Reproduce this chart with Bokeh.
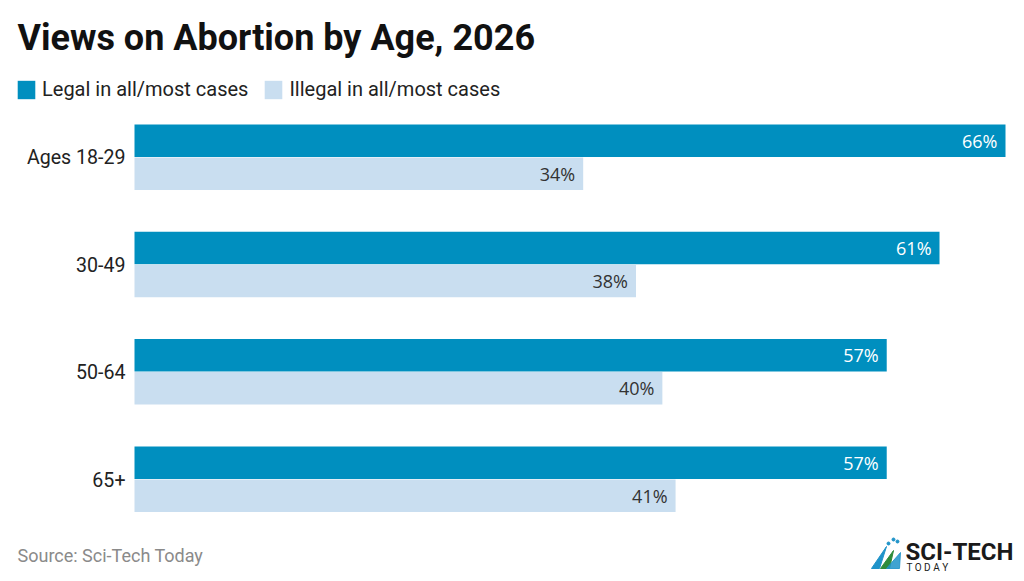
from bokeh.plotting import figure
from bokeh.models import Range1d, Label, Legend, LegendItem, ColumnDataSource
from bokeh.core.properties import value
from bokeh.embed import file_html
from bokeh.resources import INLINE

# --- data -------------------------------------------------------------
categories = ["Ages 18-29", "30-49", "50-64", "65+"]
legal = [66, 61, 57, 57]
illegal = [34, 38, 40, 41]
series_names = ["Legal in all/most cases", "Illegal in all/most cases"]
title_text = "Views on Abortion by Age, 2026"
source_text = "Source: Sci-Tech Today"

# --- layout -----------------------------------------------------------
W, H = 1024, 581
FRAME_L, FRAME_R = 134, 1005          # pixel span of 0 .. X_MAX
X_MAX = 66
PX = (FRAME_R - FRAME_L) / X_MAX      # pixels per percentage point

def sx(px):
    """screen x (pixels from left) -> data x"""
    return (px - FRAME_L) / PX

GROUP_TOP = 156.75
GROUP_STEP = 107.3
BAR_H = 32.5
HALF = 16.5

LEGAL_C = "#008fbf"
ILLEGAL_C = "#c9def0"
FONT = "Roboto"

centers = [GROUP_TOP + i * GROUP_STEP for i in range(len(categories))]
src = ColumnDataSource(dict(
    cat=categories,
    legal=legal,
    illegal=illegal,
    y_legal=[c - HALF for c in centers],
    y_illegal=[c + HALF for c in centers],
    y_cat=centers,
    zero=[0] * len(categories),
    legal_txt=[f"{v}%" for v in legal],
    illegal_txt=[f"{v}%" for v in illegal],
))

p = figure(width=W, height=H, output_backend="svg", toolbar_location=None,
           x_range=Range1d(sx(0), sx(W)), y_range=Range1d(H, 0),
           x_axis_type=None, y_axis_type=None, min_border=0)
p.outline_line_color = None
p.background_fill_color = "white"
p.border_fill_color = "white"
p.xgrid.visible = False
p.ygrid.visible = False

r_legal = p.hbar(y="y_legal", left=0, right="legal", height=BAR_H,
                 color=LEGAL_C, line_color=None, source=src)
r_illegal = p.hbar(y="y_illegal", left=0, right="illegal", height=BAR_H,
                   color=ILLEGAL_C, line_color=None, source=src)

# value labels, right-aligned inside the bar ends
p.text(x="legal", y="y_legal", text="legal_txt", source=src,
       x_offset=-8, text_align="right", text_baseline="middle",
       text_color="white", text_font=value("Open Sans"), text_font_size="18px")
p.text(x="illegal", y="y_illegal", text="illegal_txt", source=src,
       x_offset=-8, text_align="right", text_baseline="middle",
       text_color="#333333", text_font=value("Open Sans"), text_font_size="18px")

# category labels
p.text(x="zero", y="y_cat", text="cat", source=src,
       x_offset=-9, text_align="right", text_baseline="middle",
       text_color="#222222", text_font=value(FONT), text_font_size="19.6px")

# title and source note
p.add_layout(Label(x=17, x_units="screen", y=37, text=title_text,
                   text_font=FONT, text_font_size="36px",
                   text_font_style="bold", text_color="#111111",
                   text_baseline="middle"))
p.add_layout(Label(x=17, x_units="screen", y=554.5, text=source_text,
                   text_font=FONT, text_font_size="18px",
                   text_color="#8a8a8a", text_baseline="middle"))

# legend
legend = Legend(items=[LegendItem(label=series_names[0], renderers=[r_legal]),
                       LegendItem(label=series_names[1], renderers=[r_illegal])],
                location=(15, H - 101), orientation="horizontal",
                glyph_width=22, glyph_height=23, label_standoff=5,
                label_text_font=FONT, label_text_font_size="20px",
                label_text_color="#222222", spacing=14,
                padding=0, margin=0, border_line_color=None,
                background_fill_alpha=0)
p.add_layout(legend)

# brand mark, bottom right
p.patch([sx(871), sx(886), sx(879)], [568, 546, 568], color="#1f93c9")
p.patch([sx(880), sx(893), sx(889)], [568, 550, 568], color="#2e8b3a")
p.patch([sx(886), sx(900), sx(899)], [568, 552, 568], color="#1f93c9", alpha=0.85)
p.scatter([sx(888), sx(893), sx(897)], [543, 539, 541], size=3, color="#1f93c9")
p.text([sx(905)], [551], text=["SCI-TECH"], text_font=value("Roboto"),
       text_font_size="24px", text_font_style="bold", text_color="#1a1a1a",
       text_baseline="middle")
p.text([sx(906)], [566.5], text=["T  O  D  A  Y"], text_font=value("Roboto"),
       text_font_size="10px", text_color="#1a1a1a", text_baseline="middle")

open("out.html", "w").write(file_html(p, INLINE))
